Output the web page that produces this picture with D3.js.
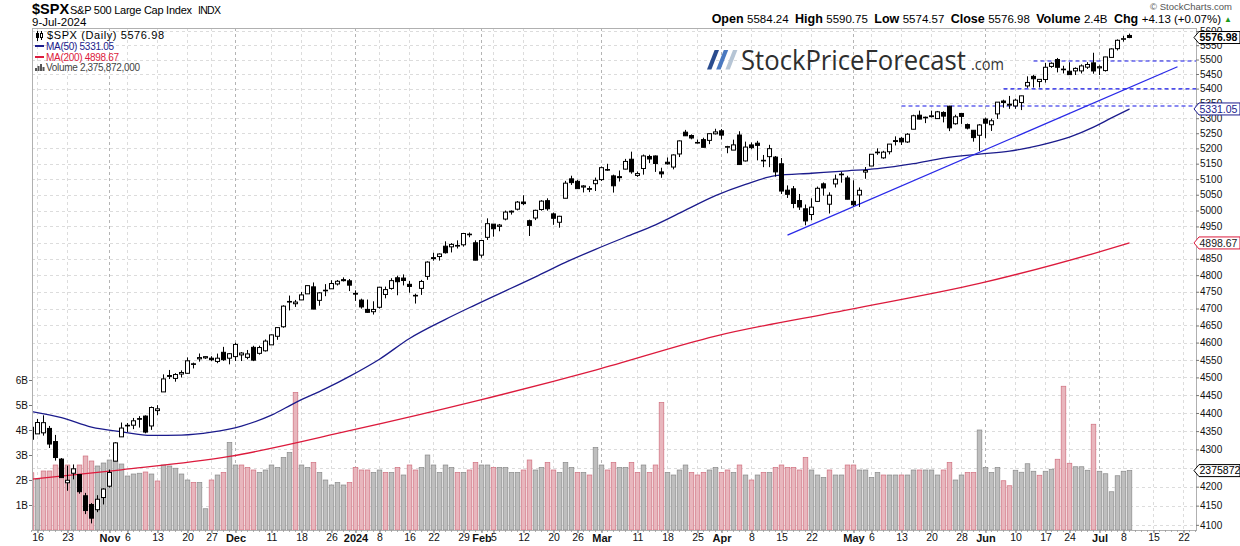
<!DOCTYPE html>
<html>
<head>
<meta charset="utf-8">
<script src="https://cdn.jsdelivr.net/npm/d3@7"></script>
<style>
  body { margin: 0; background: #fff; }
  svg { display: block; font-family: "Liberation Sans", Arial, sans-serif; }
</style>
</head>
<body>
<svg id="chart" width="1240" height="546"></svg>
<script>
// ---- data (daily, $SPX) ----
const dates = [
  "2023-10-13","2023-10-16","2023-10-17","2023-10-18","2023-10-19","2023-10-20","2023-10-23","2023-10-24","2023-10-25","2023-10-26",
  "2023-10-27","2023-10-30","2023-10-31","2023-11-01","2023-11-02","2023-11-03","2023-11-06","2023-11-07","2023-11-08","2023-11-09",
  "2023-11-10","2023-11-13","2023-11-14","2023-11-15","2023-11-16","2023-11-17","2023-11-20","2023-11-21","2023-11-22","2023-11-24",
  "2023-11-27","2023-11-28","2023-11-29","2023-11-30","2023-12-01","2023-12-04","2023-12-05","2023-12-06","2023-12-07","2023-12-08",
  "2023-12-11","2023-12-12","2023-12-13","2023-12-14","2023-12-15","2023-12-18","2023-12-19","2023-12-20","2023-12-21","2023-12-22",
  "2023-12-26","2023-12-27","2023-12-28","2023-12-29","2024-01-02","2024-01-03","2024-01-04","2024-01-05","2024-01-08","2024-01-09",
  "2024-01-10","2024-01-11","2024-01-12","2024-01-16","2024-01-17","2024-01-18","2024-01-19","2024-01-22","2024-01-23","2024-01-24",
  "2024-01-25","2024-01-26","2024-01-29","2024-01-30","2024-01-31","2024-02-01","2024-02-02","2024-02-05","2024-02-06","2024-02-07",
  "2024-02-08","2024-02-09","2024-02-12","2024-02-13","2024-02-14","2024-02-15","2024-02-16","2024-02-20","2024-02-21","2024-02-22",
  "2024-02-23","2024-02-26","2024-02-27","2024-02-28","2024-02-29","2024-03-01","2024-03-04","2024-03-05","2024-03-06","2024-03-07",
  "2024-03-08","2024-03-11","2024-03-12","2024-03-13","2024-03-14","2024-03-15","2024-03-18","2024-03-19","2024-03-20","2024-03-21",
  "2024-03-22","2024-03-25","2024-03-26","2024-03-27","2024-03-28","2024-04-01","2024-04-02","2024-04-03","2024-04-04","2024-04-05",
  "2024-04-08","2024-04-09","2024-04-10","2024-04-11","2024-04-12","2024-04-15","2024-04-16","2024-04-17","2024-04-18","2024-04-19",
  "2024-04-22","2024-04-23","2024-04-24","2024-04-25","2024-04-26","2024-04-29","2024-04-30","2024-05-01","2024-05-02","2024-05-03",
  "2024-05-06","2024-05-07","2024-05-08","2024-05-09","2024-05-10","2024-05-13","2024-05-14","2024-05-15","2024-05-16","2024-05-17",
  "2024-05-20","2024-05-21","2024-05-22","2024-05-23","2024-05-24","2024-05-28","2024-05-29","2024-05-30","2024-05-31","2024-06-03",
  "2024-06-04","2024-06-05","2024-06-06","2024-06-07","2024-06-10","2024-06-11","2024-06-12","2024-06-13","2024-06-14","2024-06-17",
  "2024-06-18","2024-06-20","2024-06-21","2024-06-24","2024-06-25","2024-06-26","2024-06-27","2024-06-28","2024-07-01","2024-07-02",
  "2024-07-03","2024-07-05","2024-07-08","2024-07-09"
];
const opens = [
  4360.49,4342.37,4345.23,4357.35,4321.36,4273.85,4210.40,4235.79,4232.42,4175.99,
  4152.93,4139.39,4171.33,4201.27,4268.26,4334.23,4364.27,4366.21,4384.37,4391.41,
  4364.15,4406.66,4458.97,4505.30,4497.08,4509.55,4511.70,4538.77,4553.04,4555.84,
  4554.86,4545.55,4571.84,4554.87,4559.43,4564.37,4557.25,4586.23,4568.84,4576.20,
  4593.39,4618.30,4646.20,4721.04,4714.23,4725.58,4743.72,4764.73,4724.29,4753.92,
  4758.86,4773.45,4786.44,4782.88,4745.20,4725.07,4697.42,4690.57,4703.70,4741.93,
  4759.94,4792.13,4791.18,4772.35,4739.13,4760.10,4796.28,4853.42,4856.80,4888.56,
  4886.66,4888.91,4892.95,4925.89,4899.19,4861.11,4916.06,4957.19,4950.16,4973.05,
  4995.16,5004.17,5026.83,4967.94,4976.44,5003.14,5031.13,4989.32,4963.03,5038.83,
  5100.92,5093.00,5074.60,5067.20,5085.36,5098.51,5130.99,5110.52,5108.03,5132.38,
  5164.46,5111.96,5134.30,5173.49,5175.14,5123.31,5154.77,5139.09,5181.69,5253.43,
  5242.48,5219.52,5228.85,5226.31,5248.03,5257.97,5204.29,5194.37,5244.05,5158.95,
  5211.37,5217.03,5160.97,5172.95,5171.51,5149.67,5064.59,5068.97,5031.52,5005.44,
  4987.33,5028.85,5084.86,5019.88,5084.65,5114.13,5103.78,5029.03,5049.32,5122.78,
  5142.42,5187.20,5168.98,5189.03,5225.49,5233.08,5221.10,5263.26,5310.07,5303.10,
  5305.35,5298.69,5319.28,5340.26,5281.45,5315.91,5278.73,5259.77,5243.21,5297.15,
  5278.24,5314.48,5357.80,5343.81,5341.22,5353.00,5409.13,5441.93,5424.08,5431.11,
  5476.15,5499.99,5466.77,5459.58,5460.73,5460.71,5473.59,5488.48,5471.08,5461.84,
  5507.44,5537.91,5572.75,5584.24
];
const highs = [
  4377.10,4383.33,4393.57,4364.20,4339.54,4276.56,4255.84,4259.38,4232.42,4183.60,
  4156.70,4177.47,4195.55,4245.64,4319.72,4373.62,4372.21,4386.26,4391.20,4393.40,
  4418.03,4421.76,4508.67,4521.17,4511.99,4520.12,4557.11,4542.14,4568.43,4560.31,
  4560.52,4568.14,4587.64,4569.89,4599.39,4572.37,4578.56,4590.74,4590.92,4609.23,
  4623.71,4643.93,4709.69,4738.57,4725.53,4749.52,4768.69,4778.01,4748.71,4772.94,
  4784.72,4785.39,4793.30,4788.43,4754.33,4729.29,4726.78,4721.49,4764.54,4765.47,
  4790.80,4798.50,4802.40,4782.34,4744.23,4785.79,4842.07,4868.41,4866.48,4903.68,
  4898.15,4906.69,4929.31,4931.09,4906.75,4906.97,4975.29,4957.19,4957.77,4999.89,
  5000.40,5030.06,5048.39,4971.30,5002.52,5032.72,5038.70,4993.71,4983.21,5094.39,
  5111.06,5097.66,5080.69,5077.37,5104.99,5140.33,5149.67,5114.54,5127.97,5165.62,
  5189.26,5124.66,5179.87,5179.14,5176.85,5136.86,5170.28,5180.31,5226.19,5261.10,
  5246.09,5229.09,5235.16,5249.26,5264.85,5263.95,5208.34,5228.75,5256.59,5222.18,
  5219.57,5224.81,5178.43,5211.78,5175.03,5168.43,5079.84,5077.96,5052.47,5019.02,
  5038.84,5076.12,5089.48,5057.75,5114.62,5123.49,5110.83,5096.12,5073.21,5139.12,
  5181.00,5200.23,5191.95,5214.53,5239.66,5237.26,5250.37,5311.76,5325.49,5305.45,
  5325.32,5324.32,5323.18,5341.88,5311.65,5315.91,5282.27,5260.21,5280.33,5302.11,
  5298.80,5354.16,5362.35,5375.08,5365.79,5375.95,5441.93,5447.25,5432.39,5488.50,
  5490.38,5505.53,5478.31,5490.66,5472.88,5483.14,5490.81,5523.64,5479.55,5509.69,
  5539.27,5570.33,5583.11,5590.75
];
const lows = [
  4311.97,4342.37,4337.54,4303.84,4269.69,4223.03,4189.22,4219.43,4181.42,4127.90,
  4103.78,4132.94,4153.12,4197.74,4268.26,4334.23,4347.53,4355.41,4359.76,4343.94,
  4353.34,4393.82,4458.97,4495.31,4487.83,4499.66,4510.36,4525.51,4545.05,4552.80,
  4546.32,4540.51,4547.15,4537.24,4546.72,4546.72,4551.68,4546.50,4565.22,4574.06,
  4593.39,4608.09,4643.23,4694.34,4704.69,4725.58,4743.72,4697.82,4708.35,4736.77,
  4758.45,4768.90,4780.98,4751.99,4722.67,4699.71,4687.53,4682.11,4699.82,4730.35,
  4756.20,4739.58,4768.98,4747.12,4714.82,4740.57,4785.87,4844.05,4844.37,4865.94,
  4869.34,4881.47,4887.40,4916.27,4845.15,4853.52,4907.99,4918.09,4934.88,4969.05,
  4987.09,5000.34,5016.83,4920.31,4969.80,4999.44,4999.52,4955.02,4946.00,5038.83,
  5081.46,5068.91,5057.29,5058.35,5061.89,5094.16,5127.18,5056.82,5092.22,5131.59,
  5117.50,5107.25,5114.48,5151.88,5123.30,5104.35,5146.88,5131.59,5171.55,5240.66,
  5229.87,5216.09,5203.42,5213.92,5245.82,5229.20,5184.05,5194.37,5146.06,5157.21,
  5197.35,5160.78,5138.70,5138.77,5107.94,5052.47,5039.83,5007.25,5001.89,4953.56,
  4969.40,5027.96,5047.02,4990.58,5073.14,5088.65,5035.31,5013.45,5011.05,5101.22,
  5142.42,5178.96,5165.86,5180.41,5209.68,5211.16,5217.98,5263.26,5296.19,5283.59,
  5302.40,5297.87,5286.01,5256.93,5278.39,5280.89,5262.70,5222.10,5191.68,5234.32,
  5257.63,5297.64,5335.36,5331.33,5331.52,5327.25,5402.51,5403.75,5403.75,5420.40,
  5471.32,5455.56,5452.03,5447.59,5446.56,5451.87,5467.54,5451.12,5446.53,5458.43,
  5507.42,5531.63,5562.51,5574.57
];
const closes = [
  4327.78,4373.63,4373.20,4314.60,4278.00,4224.16,4217.04,4247.68,4186.77,4137.23,
  4117.37,4166.82,4193.80,4237.86,4317.78,4358.34,4365.98,4378.38,4382.78,4347.35,
  4415.24,4411.55,4495.70,4502.88,4508.24,4514.02,4547.38,4538.19,4556.62,4559.34,
  4550.43,4554.89,4550.58,4567.80,4594.63,4569.78,4567.18,4549.34,4585.59,4604.37,
  4622.44,4643.70,4707.09,4719.55,4719.19,4740.56,4768.37,4698.35,4746.75,4754.63,
  4774.75,4781.58,4783.35,4769.83,4742.83,4704.81,4688.68,4697.24,4763.54,4756.50,
  4783.45,4780.24,4783.83,4765.98,4739.21,4780.94,4839.81,4850.43,4864.60,4868.55,
  4894.16,4890.97,4927.93,4924.97,4845.65,4906.19,4958.61,4942.81,4954.23,4995.06,
  4997.91,5026.61,5021.84,4953.17,5000.62,5029.73,5005.57,4975.51,4981.80,5087.03,
  5088.80,5069.53,5078.18,5069.76,5096.27,5137.08,5130.95,5078.65,5104.76,5157.36,
  5123.69,5117.94,5175.27,5165.31,5150.48,5117.09,5149.42,5178.51,5224.62,5241.53,
  5234.18,5218.19,5203.58,5248.49,5254.35,5243.77,5205.81,5211.49,5147.21,5204.34,
  5202.39,5209.91,5160.64,5199.06,5123.41,5061.82,5051.41,5022.21,5011.12,4967.23,
  5010.60,5070.55,5071.63,5048.42,5099.96,5116.17,5035.69,5018.39,5064.20,5127.79,
  5180.74,5187.70,5187.67,5214.08,5222.68,5221.42,5246.68,5308.15,5297.10,5303.27,
  5308.13,5321.41,5307.01,5267.84,5304.72,5306.04,5266.95,5235.48,5277.51,5283.40,
  5291.34,5354.03,5352.96,5346.99,5360.79,5375.32,5421.03,5433.74,5431.60,5473.23,
  5487.03,5473.17,5464.62,5447.87,5469.30,5477.90,5482.87,5460.48,5475.09,5509.01,
  5537.02,5567.19,5572.85,5576.98
];
// volume in billions of shares
const volumes = [
  2.29,2.02,2.36,2.36,2.60,2.50,2.60,2.43,2.60,2.96,
  2.76,2.56,2.68,2.80,2.76,2.64,2.16,2.24,2.27,2.32,
  2.24,1.96,2.60,2.56,2.47,2.24,2.00,1.90,1.90,0.85,
  2.00,2.20,2.30,3.50,2.60,2.60,2.50,2.40,2.30,2.40,
  2.60,2.50,2.90,3.10,5.50,2.60,2.50,2.70,2.30,2.00,
  1.80,1.90,1.80,1.90,2.50,2.40,2.40,2.30,2.40,2.30,
  2.30,2.50,2.20,2.60,2.40,2.50,3.00,2.60,2.30,2.60,
  2.50,2.30,2.30,2.40,2.70,2.60,2.60,2.50,2.50,2.50,
  2.30,2.30,2.40,2.80,2.40,2.50,2.70,2.40,2.30,2.70,
  2.50,2.30,2.30,2.20,3.30,2.60,2.40,2.70,2.50,2.50,
  2.70,2.30,2.60,2.30,2.60,5.10,2.30,2.20,2.40,2.60,
  2.30,2.20,2.30,2.40,2.50,2.30,2.40,2.30,2.60,2.20,
  2.00,2.20,2.30,2.30,2.50,2.60,2.50,2.50,2.40,2.90,
  2.40,2.20,2.10,2.40,2.20,2.20,2.60,2.60,2.40,2.40,
  2.10,2.30,2.20,2.20,2.20,2.20,2.20,2.40,2.40,2.40,
  2.40,2.20,2.40,2.70,2.00,2.20,2.30,2.30,4.00,2.50,
  2.30,2.50,1.97,1.77,2.39,2.31,2.65,2.35,2.19,2.35,
  2.43,2.83,5.75,2.67,2.53,2.53,2.39,4.23,2.35,2.25,
  1.53,2.17,2.35,2.376
];
const prevClose = 4349.61;   // close of 2023-10-12, for the first volume colour
const futureDates = ["2024-07-10","2024-07-11","2024-07-12","2024-07-15","2024-07-16","2024-07-17","2024-07-18","2024-07-19","2024-07-22","2024-07-23","2024-07-24"];

// moving averages
const ma50Dates = ["2023-10-13","2023-10-20","2023-10-27","2023-11-03","2023-11-10","2023-11-17","2023-11-27","2023-12-04","2023-12-11","2023-12-15",
  "2023-12-22","2023-12-29","2024-01-08","2024-01-16","2024-01-24","2024-01-31","2024-02-14","2024-02-22","2024-02-29","2024-03-07",
  "2024-03-14","2024-03-21","2024-03-28","2024-04-05","2024-04-12","2024-04-22","2024-04-30","2024-05-07","2024-05-15","2024-05-22",
  "2024-05-31","2024-06-07","2024-06-14","2024-06-24","2024-06-28","2024-07-03","2024-07-09"];
const ma50Values = [4404,4387,4361,4348,4338,4339,4347,4364,4394,4429,
  4468,4503,4552,4612,4668,4711,4795,4839,4879,4917,
  4955,5001,5047,5083,5111,5119,5127,5134,5150,5168,
  5181,5191,5210,5237,5270,5301,5331.05];
const ma200Dates = ["2023-10-13","2023-11-03","2023-11-30","2023-12-29","2024-01-31","2024-02-29","2024-03-28","2024-04-30","2024-05-31","2024-06-28","2024-07-09"];
const ma200Values = [4220,4245,4281,4351,4433,4521,4619,4696,4775,4866,4898.67];

// annotations (date, price)
const supportLevels = [5495, 5399, 5341];
const supportStarts = ["2024-06-13","2024-06-06","2024-05-13"];
const trendFrom = ["2024-04-16", 4923];
const trendTo = ["2024-07-19", 5475];

// axes
const priceTicks = [4100,4150,4200,4250,4300,4350,4400,4450,4500,4550,4600,4650,4700,4750,4800,4850,
  4900,4950,5000,5050,5100,5150,5200,5250,5300,5350,5400,5450,5500,5550,5600];
const volumeTicks = [1, 2, 3, 4, 5, 6];
const xTickDates = ["2023-10-16","2023-10-23","2023-11-01","2023-11-06","2023-11-13","2023-11-20","2023-11-27","2023-12-01","2023-12-11","2023-12-18",
  "2023-12-26","2024-01-02","2024-01-08","2024-01-16","2024-01-22","2024-01-29","2024-02-01","2024-02-05","2024-02-12","2024-02-20",
  "2024-02-26","2024-03-01","2024-03-11","2024-03-18","2024-03-25","2024-04-01","2024-04-08","2024-04-15","2024-04-22","2024-05-01",
  "2024-05-06","2024-05-13","2024-05-20","2024-05-28","2024-06-03","2024-06-10","2024-06-17","2024-06-24","2024-07-01","2024-07-08",
  "2024-07-15","2024-07-22"];
const xTickLabels = ["16","23","Nov","6","13","20","27","Dec","11","18",
  "26","2024","8","16","22","29","Feb","5","12","20",
  "26","Mar","11","18","25","Apr","8","15","22","May",
  "6","13","20","28","Jun","10","17","24","Jul","8",
  "15","22"];
const monthLabels = ["Nov","Dec","2024","Feb","Mar","Apr","May","Jun","Jul"];

// ---- layout ----
const plot = { left: 32, right: 1196, top: 28, bottom: 530 };
const svg = d3.select("#chart");
const allDates = dates.concat(futureDates);
const pos = d => allDates.indexOf(d);
const last = dates.length - 1;

// bar centres sit on pixel centres (x + 0.5)
const x = d3.scaleLinear().domain([0, last]).range([31.5, 1129.5]);
const y = d3.scaleLog().domain([4086.7, 5610.6]).range([plot.bottom, plot.top]);
const yv = d3.scaleLinear().domain([0, 20.08]).range([plot.bottom, plot.top]);

svg.append("defs").append("clipPath").attr("id", "clip")
  .append("rect").attr("x", plot.left).attr("y", plot.top)
  .attr("width", plot.right - plot.left).attr("height", plot.bottom - plot.top);

// grid
const grid = svg.append("g").attr("shape-rendering", "crispEdges");
grid.selectAll("line.h").data(priceTicks).join("line")
  .attr("x1", plot.left).attr("x2", plot.right)
  .attr("y1", d => Math.round(y(d)) + 0.5).attr("y2", d => Math.round(y(d)) + 0.5)
  .attr("stroke", "#dcdcdc").attr("stroke-dasharray", "3,3");
grid.selectAll("line.v").data(xTickDates).join("line")
  .attr("x1", d => x(pos(d))).attr("x2", d => x(pos(d)))
  .attr("y1", plot.top).attr("y2", plot.bottom)
  .attr("stroke", (d, i) => monthLabels.includes(xTickLabels[i]) ? "#b4b4b4" : "#dcdcdc")
  .attr("stroke-dasharray", "3,3");

// logo
const logo = svg.append("g");
const slashCols = ["#2a4c8e", "#4a79c0", "#b6c5d5"];
slashCols.forEach((c, k) => {
  const a = 707 + k * 9.2;
  logo.append("path").attr("d", `M${a},69.5 L${a + 4.4},69.5 L${a + 12},50 L${a + 7.6},50 Z`).attr("fill", c);
});
logo.append("text").attr("x", 741).attr("y", 69.5).attr("textLength", 225).attr("lengthAdjust", "spacingAndGlyphs")
  .style("font-family", "'Open Sans', 'Liberation Sans', sans-serif").style("font-size", "27px").style("font-weight", 500)
  .attr("fill", "#2e2e2e").text("StockPriceForecast");
logo.append("text").attr("x", 971).attr("y", 69.5).attr("textLength", 33).attr("lengthAdjust", "spacingAndGlyphs")
  .style("font-family", "'Open Sans', 'Liberation Sans', sans-serif").style("font-size", "17px")
  .attr("fill", "#333").text(".com");

const data = svg.append("g").attr("clip-path", "url(#clip)");

// volume
const isDown = i => closes[i] < (i ? closes[i - 1] : prevClose);
data.append("g").selectAll("rect").data(volumes).join("rect")
  .attr("x", (d, i) => x(i) - 2.3).attr("width", 4.6)
  .attr("y", d => yv(d)).attr("height", d => plot.bottom - yv(d))
  .attr("fill", (d, i) => isDown(i) ? "#e8b6bd" : "#bebebe")
  .attr("stroke", (d, i) => isDown(i) ? "#d0707f" : "#8a8a8a")
  .attr("stroke-width", 0.7);

// moving averages
const maLine = d3.line().x(d => x(pos(d[0]))).y(d => y(d[1])).curve(d3.curveMonotoneX);
data.append("path").datum(d3.zip(ma200Dates, ma200Values)).attr("d", maLine)
  .attr("fill", "none").attr("stroke", "#dc1a3c").attr("stroke-width", 1.3);
data.append("path").datum(d3.zip(ma50Dates, ma50Values)).attr("d", maLine)
  .attr("fill", "none").attr("stroke", "#1b1b8c").attr("stroke-width", 1.3);

// annotations
data.append("g").selectAll("line").data(supportLevels).join("line")
  .attr("x1", (d, i) => x(pos(supportStarts[i]))).attr("x2", plot.right)
  .attr("y1", d => y(d)).attr("y2", d => y(d))
  .attr("stroke", "#1515e6").attr("stroke-width", 1.2).attr("stroke-dasharray", "4,3");
data.append("line")
  .attr("x1", x(pos(trendFrom[0]))).attr("y1", y(trendFrom[1]))
  .attr("x2", x(pos(trendTo[0]))).attr("y2", y(trendTo[1]))
  .attr("stroke", "#2a2ae8").attr("stroke-width", 1.3);

// candles
const candles = data.append("g").selectAll("g").data(d3.range(dates.length)).join("g");
candles.append("line")
  .attr("x1", i => x(i)).attr("x2", i => x(i))
  .attr("y1", i => y(highs[i])).attr("y2", i => y(lows[i]))
  .attr("stroke", "#000").attr("stroke-width", 1);
candles.append("rect")
  .attr("x", i => x(i) - 2).attr("width", 4)
  .attr("y", i => y(Math.max(opens[i], closes[i])))
  .attr("height", i => Math.max(0.6, Math.abs(y(opens[i]) - y(closes[i]))))
  .attr("fill", i => closes[i] >= opens[i] ? "#fff" : "#000")
  .attr("stroke", "#000").attr("stroke-width", 1);

// frame
svg.append("rect").attr("x", plot.left + 0.5).attr("y", plot.top + 0.5)
  .attr("width", plot.right - plot.left).attr("height", plot.bottom - plot.top)
  .attr("fill", "none").attr("stroke", "#b0b0b0");

// axes
const axR = svg.append("g").attr("transform", `translate(${plot.right},0)`)
  .call(d3.axisRight(y).tickValues(priceTicks).tickFormat(d3.format("d")).tickSize(3).tickSizeOuter(0).tickPadding(1));
const axL = svg.append("g").attr("transform", `translate(${plot.left},0)`)
  .call(d3.axisLeft(yv).tickValues(volumeTicks).tickFormat(d => d + "B").tickSize(3).tickSizeOuter(0).tickPadding(1));
const axB = svg.append("g").attr("transform", `translate(0,${plot.bottom})`)
  .call(d3.axisBottom(x).tickValues(xTickDates.map(pos)).tickFormat((d, i) => xTickLabels[i]).tickSize(3).tickSizeOuter(0).tickPadding(1));
[axR, axL, axB].forEach(g => {
  g.selectAll("path.domain").attr("stroke", "#b0b0b0");
  g.selectAll(".tick line").attr("stroke", "#777");
  g.selectAll("text").attr("fill", "#111").style("font-family", "'Liberation Sans', Arial, sans-serif").style("font-size", "10px");
});
axB.selectAll("path.domain").remove();
axB.selectAll("text").style("font-size", "10.5px")
  .filter(function () { return monthLabels.includes(this.textContent); })
  .style("font-weight", "bold").style("font-size", "11px");
// day ticks along the date axis
svg.append("g").selectAll("line").data(d3.range(allDates.length)).join("line")
  .attr("x1", i => x(i)).attr("x2", i => x(i)).attr("y1", plot.bottom).attr("y2", plot.bottom + 2)
  .attr("stroke", "#999").attr("stroke-width", 0.8);

// right-hand value tags
function tag(cy, label, stroke, color, bold) {
  const g = svg.append("g");
  g.append("path").attr("d", `M${plot.right - 2},${cy} L${plot.right + 3},${cy - 6} H1240 V${cy + 6} H${plot.right + 3} Z`)
    .attr("fill", "#fff").attr("stroke", stroke).attr("stroke-width", 1);
  g.append("text").attr("x", plot.right + 3.5).attr("y", cy + 3.8).attr("fill", color)
    .style("font-size", "10.5px").style("font-weight", bold ? "bold" : "normal").text(label);
}
tag(y(closes[last]), d3.format(".2f")(closes[last]), "#000", "#000", true);
tag(y(ma50Values[ma50Values.length - 1]), "5331.05", "#1b1b8c", "#1b1b8c", false);
tag(y(ma200Values[ma200Values.length - 1]), "4898.67", "#dc1a3c", "#222", false);
tag(yv(volumes[last]), "2375872", "#000", "#000", false);

// header
svg.append("text").attr("x", 32).attr("y", 14).style("font-size", "14.5px").style("font-weight", "bold").text("$SPX");
svg.append("text").attr("x", 70).attr("y", 14).attr("textLength", 122).style("font-size", "11px").text("S&P 500 Large Cap Index");
svg.append("text").attr("x", 198).attr("y", 14).attr("textLength", 23).style("font-size", "10.5px").text("INDX");
svg.append("text").attr("x", 32).attr("y", 26).style("font-size", "11.5px").text("9-Jul-2024");
svg.append("text").attr("x", 1232).attr("y", 10).attr("text-anchor", "end").attr("fill", "#555")
  .style("font-size", "9.5px").text("© StockCharts.com");

const hdrKeys = ["Open", "High", "Low", "Close", "Volume", "Chg"];
const hdrVals = ["5584.24", "5590.75", "5574.57", "5576.98", "2.4B", "+4.13 (+0.07%)"];
const hdr = svg.append("text").attr("x", 1221).attr("y", 23).attr("text-anchor", "end")
  .style("white-space", "pre").style("font-size", "11.5px");
hdrKeys.forEach((k, i) => {
  hdr.append("tspan").style("font-weight", "bold").style("font-size", "12.5px").text(k + " ");
  hdr.append("tspan").text(hdrVals[i] + (i < hdrKeys.length - 1 ? "  " : ""));
});
svg.append("text").attr("x", 1224).attr("y", 22).attr("fill", "#1a9a1a").style("font-size", "8px").text("▲");

// legend
const lg = svg.append("g");
lg.append("line").attr("x1", 37.5).attr("x2", 37.5).attr("y1", 31).attr("y2", 41).attr("stroke", "#000");
lg.append("rect").attr("x", 36).attr("y", 33).attr("width", 3).attr("height", 5).attr("fill", "#000");
lg.append("line").attr("x1", 41.5).attr("x2", 41.5).attr("y1", 31).attr("y2", 40).attr("stroke", "#000");
lg.append("rect").attr("x", 40.5).attr("y", 33.5).attr("width", 2).attr("height", 4).attr("fill", "#fff").attr("stroke", "#000");
lg.append("text").attr("x", 47).attr("y", 39).attr("textLength", 117).style("font-size", "11px").text("$SPX (Daily) 5576.98");
lg.append("line").attr("x1", 35).attr("x2", 44).attr("y1", 46).attr("y2", 46).attr("stroke", "#1b1b8c").attr("stroke-width", 2);
lg.append("text").attr("x", 46).attr("y", 50).attr("textLength", 68).attr("fill", "#1b1b8c").style("font-size", "10px").text("MA(50) 5331.05");
lg.append("line").attr("x1", 35).attr("x2", 44).attr("y1", 57).attr("y2", 57).attr("stroke", "#dc1a3c").attr("stroke-width", 2);
lg.append("text").attr("x", 46).attr("y", 61).attr("textLength", 73).attr("fill", "#dc1a3c").style("font-size", "10px").text("MA(200) 4898.67");
[[35, 3], [37.5, 5], [40, 7], [42.5, 4]].forEach(([bx, bh]) => {
  lg.append("rect").attr("x", bx).attr("y", 71 - bh).attr("width", 2).attr("height", bh).attr("fill", "#555");
});
lg.append("text").attr("x", 46).attr("y", 71).attr("textLength", 94).attr("fill", "#444").style("font-size", "10px").text("Volume 2,375,872,000");
</script>
</body>
</html>
